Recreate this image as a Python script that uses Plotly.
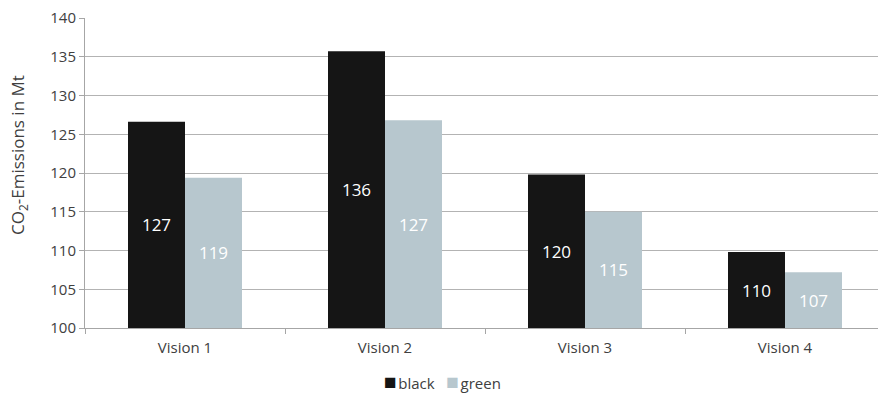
import plotly.graph_objects as go

# Data
visions = ["Vision 1", "Vision 2", "Vision 3", "Vision 4"]
black_vals = [126.6, 135.7, 119.8, 109.8]
green_vals = [119.4, 126.8, 115.0, 107.2]
y_ticks = [100, 105, 110, 115, 120, 125, 130, 135, 140]
series = [("black", black_vals, "#151515"), ("green", green_vals, "#b7c7ce")]

AXIS_MIN = 100
FONT = "'Open Sans', sans-serif"
TEXT_COL = "#404040"

fig = go.Figure()
for name, vals, col in series:
    # bars start at the axis minimum so the inside labels sit in the visible part
    fig.add_trace(go.Bar(
        x=visions, y=[v - AXIS_MIN for v in vals], base=AXIS_MIN, name=name,
        marker=dict(color=col, line=dict(width=0)),
        text=[f"{v:.0f}" for v in vals], textposition="inside", insidetextanchor="middle",
        textfont=dict(color="#ffffff", size=17, family=FONT),
        customdata=vals, hovertemplate="%{x}: %{customdata}<extra>" + name + "</extra>",
        showlegend=False,
    ))

# hand-built legend row: coloured square glyph followed by the series name
legend_text = "   ".join(
    f'<span style="color:{col};font-size:21px">■</span><span style="font-size:6px"> </span>{name}'
    for name, _, col in series
)

fig.update_layout(
    width=878, height=396,
    margin=dict(l=85, r=0, t=18, b=68),
    paper_bgcolor="white", plot_bgcolor="white",
    barmode="group", bargap=0.43, bargroupgap=0,
    font=dict(family=FONT, color=TEXT_COL, size=15),
    xaxis=dict(
        range=[-0.5, 3.465],
        showline=True, linecolor="#a6a6a6", linewidth=1,
        ticks="outside", tickson="boundaries", ticklen=5, tickcolor="#a6a6a6",
        showgrid=False, tickfont=dict(size=15, color=TEXT_COL),
        ticklabelstandoff=6,
    ),
    yaxis=dict(
        range=[AXIS_MIN, 140], tickvals=y_ticks,
        showline=True, linecolor="#a6a6a6", linewidth=1,
        ticks="outside", ticklen=5, tickcolor="#a6a6a6",
        showgrid=True, gridcolor="#b3b3b3", gridwidth=1,
        tickfont=dict(size=15, color=TEXT_COL),
        zeroline=False,
    ),
    annotations=[
        dict(
            text=legend_text, xref="paper", yref="paper", x=0.4514, y=-0.171,
            xanchor="center", yanchor="middle", showarrow=False,
            font=dict(size=15, color=TEXT_COL, family=FONT),
        ),
        dict(
            text="CO<sub>2</sub>-Emissions in Mt", xref="paper", yref="paper",
            x=-0.0845, y=0.558, xanchor="center", yanchor="middle", textangle=-90,
            showarrow=False, font=dict(size=17, color=TEXT_COL, family=FONT),
        ),
    ],
)

fig.write_html("out.html")
